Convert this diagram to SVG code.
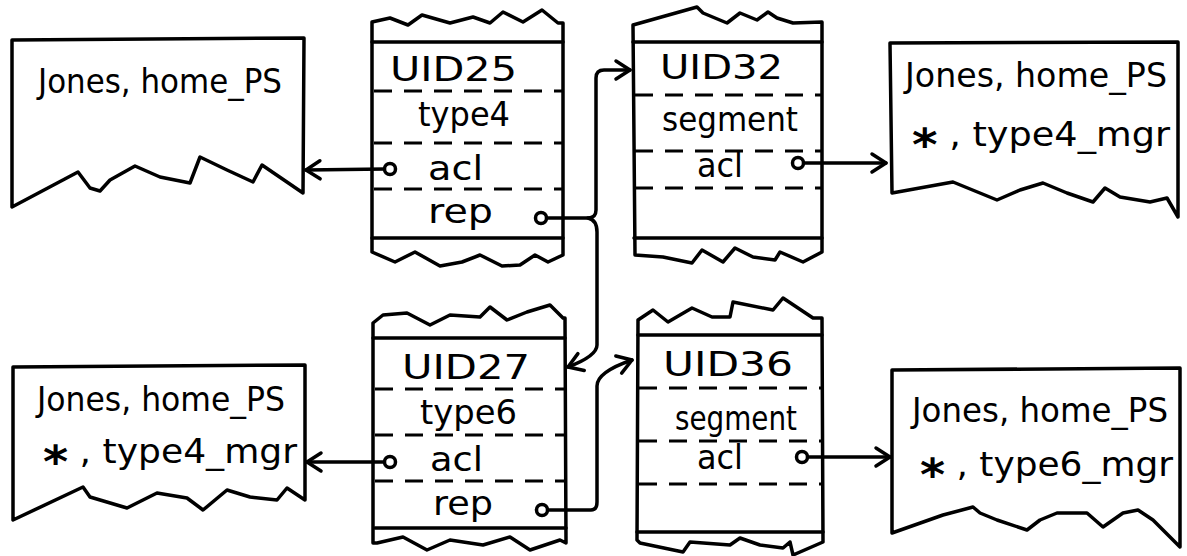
<svg xmlns="http://www.w3.org/2000/svg" width="1187" height="556" viewBox="0 0 1187 556">
<defs>
<style>
.box{fill:#fff;stroke:#000;stroke-width:3.5;stroke-linejoin:round;stroke-linecap:round}
.sol{stroke:#000;stroke-width:3.5;fill:none;stroke-linecap:round}
.dash{stroke:#000;stroke-width:3;fill:none;stroke-dasharray:18 12}
.t{font-family:"DejaVu Sans","Liberation Sans",sans-serif;font-size:33px;fill:#000}
.ast{font-size:44px;font-weight:bold}
.c{fill:#fff;stroke:#000;stroke-width:3.5}
.con{fill:none;stroke:#000;stroke-width:3.5;stroke-linejoin:round;stroke-linecap:round}
</style>
<marker id="ah" markerUnits="userSpaceOnUse" markerWidth="24" markerHeight="24" refX="18" refY="12" orient="auto">
<path d="M4,3 L18,12 L4,21" fill="none" stroke="#000" stroke-width="3.5" stroke-linecap="round" stroke-linejoin="round"/>
</marker>
</defs>

<g id="acl-top-left">
<path class="box" d="M12,40 L304,38 L303,193 L262,165 L253,182 L227,170 L200,157 L190,183 L160,177 L135,166 L110,180 L100,191 L90,188 L78,172 L12,207 Z"/>
<text class="t" x="38" y="93" textLength="244" lengthAdjust="spacingAndGlyphs">Jones, home_PS</text>
</g>

<g id="acl-top-right">
<path class="box" d="M890,43 L1178,42 L1178,217 L1167,198 L1150,202 L1120,197 L1105,188 L1093,202 L1067,193 L1043,183 L1020,190 L997,200 L953,182 L892,193 Z"/>
<text class="t" x="905" y="87" textLength="262" lengthAdjust="spacingAndGlyphs">Jones, home_PS</text>
<text class="t" x="912" y="146" textLength="258" lengthAdjust="spacingAndGlyphs"><tspan class="ast" dy="14">*</tspan><tspan dy="-14"> , type4_mgr</tspan></text>
</g>

<g id="acl-bottom-left">
<path class="box" d="M13,367 L305,365 L305,500 L287,488 L277,500 L250,497 L227,490 L203,510 L187,498 L157,493 L127,508 L90,497 L83,487 L13,520 Z"/>
<text class="t" x="37" y="411" textLength="248" lengthAdjust="spacingAndGlyphs">Jones, home_PS</text>
<text class="t" x="43" y="463" textLength="254" lengthAdjust="spacingAndGlyphs"><tspan class="ast" dy="14">*</tspan><tspan dy="-14"> , type4_mgr</tspan></text>
</g>

<g id="acl-bottom-right">
<path class="box" d="M892,370 L1180,368 L1180,547 L1153,520 L1138,510 L1123,513 L1103,527 L1087,513 L1057,513 L1040,520 L1027,530 L997,520 L980,513 L973,507 L943,515 L892,533 Z"/>
<text class="t" x="912" y="422" textLength="256" lengthAdjust="spacingAndGlyphs">Jones, home_PS</text>
<text class="t" x="920" y="476" textLength="253" lengthAdjust="spacingAndGlyphs"><tspan class="ast" dy="14">*</tspan><tspan dy="-14"> , type6_mgr</tspan></text>
</g>

<g id="uid25">
<path class="box" d="M372,22 L390,18 L408,25 L422,15 L450,23 L473,17 L490,23 L503,12 L523,22 L542,10 L558,23 L563,23 L563,255 L548,262 L535,255 L520,265 L502,266 L480,255 L462,262 L440,266 L415,252 L395,262 L372,252 Z"/>
<line class="sol" x1="372" y1="42" x2="563" y2="42"/>
<line class="sol" x1="372" y1="238" x2="563" y2="238"/>
<line class="dash" x1="374" y1="91" x2="562" y2="91"/>
<line class="dash" x1="374" y1="143" x2="562" y2="143"/>
<line class="dash" x1="374" y1="189" x2="562" y2="189"/>
<text class="t" x="390" y="81" textLength="127" lengthAdjust="spacingAndGlyphs">UID25</text>
<text class="t" x="418" y="126" textLength="92" lengthAdjust="spacingAndGlyphs">type4</text>
<text class="t" x="428" y="180" textLength="55" lengthAdjust="spacingAndGlyphs">acl</text>
<text class="t" x="428" y="223" textLength="65" lengthAdjust="spacingAndGlyphs">rep</text>
</g>

<g id="uid32">
<path class="box" d="M633,25 L697,7 L703,13 L727,23 L740,13 L757,20 L768,12 L777,18 L793,23 L822,22 L822,252 L803,262 L780,252 L775,260 L753,257 L735,248 L723,262 L702,250 L692,263 L663,257 L635,255 Z"/>
<line class="sol" x1="633" y1="42" x2="822" y2="42"/>
<line class="sol" x1="634" y1="238" x2="822" y2="238"/>
<line class="dash" x1="635" y1="95" x2="821" y2="95"/>
<line class="dash" x1="635" y1="151" x2="821" y2="151"/>
<line class="dash" x1="635" y1="188" x2="821" y2="188"/>
<text class="t" x="660" y="79" textLength="123" lengthAdjust="spacingAndGlyphs">UID32</text>
<text class="t" x="662" y="131" textLength="136" lengthAdjust="spacingAndGlyphs">segment</text>
<text class="t" x="697" y="177" textLength="46" lengthAdjust="spacingAndGlyphs">acl</text>
</g>

<g id="uid27">
<path class="box" d="M373,323 L383,315 L407,313 L430,325 L450,315 L480,317 L490,307 L507,320 L527,312 L550,305 L563,318 L565,318 L566,543 L560,540 L530,550 L510,537 L483,545 L450,540 L427,550 L403,537 L377,543 L373,543 Z"/>
<line class="sol" x1="373" y1="338" x2="565" y2="338"/>
<line class="sol" x1="375" y1="528" x2="566" y2="528"/>
<line class="dash" x1="375" y1="389" x2="564" y2="389"/>
<line class="dash" x1="375" y1="435" x2="564" y2="435"/>
<line class="dash" x1="375" y1="481" x2="564" y2="481"/>
<text class="t" x="402" y="379" textLength="128" lengthAdjust="spacingAndGlyphs">UID27</text>
<text class="t" x="420" y="424" textLength="97" lengthAdjust="spacingAndGlyphs">type6</text>
<text class="t" x="430" y="471" textLength="53" lengthAdjust="spacingAndGlyphs">acl</text>
<text class="t" x="433" y="515" textLength="60" lengthAdjust="spacingAndGlyphs">rep</text>
</g>

<g id="uid36">
<path class="box" d="M638,320 L653,310 L668,322 L692,308 L712,317 L730,317 L733,302 L773,310 L783,298 L813,318 L822,318 L823,542 L793,555 L790,542 L783,548 L760,545 L740,538 L730,545 L690,542 L683,552 L640,543 L637,540 Z"/>
<line class="sol" x1="638" y1="335" x2="822" y2="335"/>
<line class="sol" x1="637" y1="532" x2="823" y2="532"/>
<line class="dash" x1="639" y1="388" x2="821" y2="388"/>
<line class="dash" x1="639" y1="441" x2="821" y2="441"/>
<line class="dash" x1="639" y1="484" x2="821" y2="484"/>
<text class="t" x="663" y="376" textLength="130" lengthAdjust="spacingAndGlyphs">UID36</text>
<text class="t" x="675" y="430" textLength="122" lengthAdjust="spacingAndGlyphs">segment</text>
<text class="t" x="697" y="469" textLength="46" lengthAdjust="spacingAndGlyphs">acl</text>
</g>

<g id="connectors">
<path class="con" d="M385,169 L306,170" marker-end="url(#ah)"/>
<path class="con" d="M545,218 L588,218 Q596,218 596,210 L596,78 Q596,70 604,70 L630,70" marker-end="url(#ah)"/>
<path class="con" d="M588,218 Q597,220 597,232 L597,345 Q597,356 568,367" marker-end="url(#ah)"/>
<path class="con" d="M803,163 L886,163" marker-end="url(#ah)"/>
<path class="con" d="M385,462 L307,462" marker-end="url(#ah)"/>
<path class="con" d="M547,510 L591,510 Q597,510 597,502 L597,386 Q597,372 632,360" marker-end="url(#ah)"/>
<path class="con" d="M807,457 L890,457" marker-end="url(#ah)"/>
<circle class="c" cx="390" cy="169" r="5.5"/>
<circle class="c" cx="541" cy="218" r="5.5"/>
<circle class="c" cx="798" cy="163" r="5.5"/>
<circle class="c" cx="390" cy="462" r="5.5"/>
<circle class="c" cx="542" cy="510" r="5.5"/>
<circle class="c" cx="802" cy="457" r="5.5"/>
</g>
</svg>
